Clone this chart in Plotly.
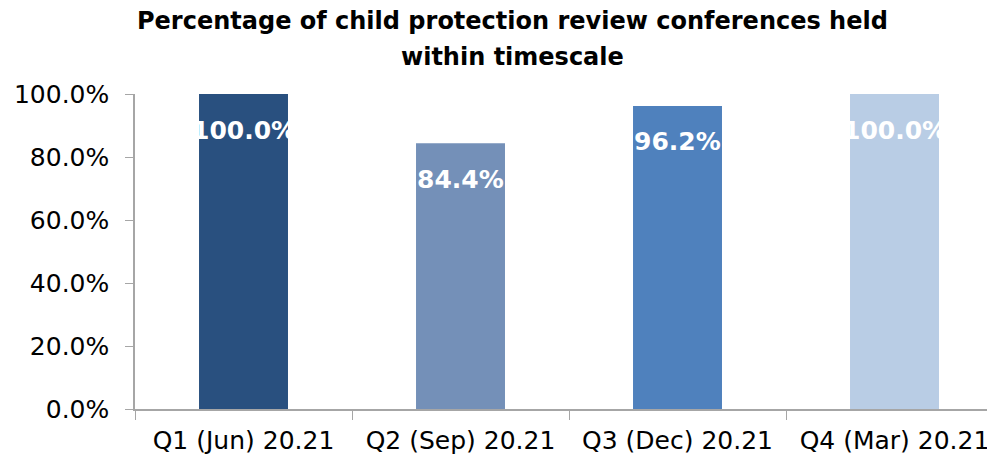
import plotly.graph_objects as go

categories = ["Q1 (Jun) 20.21", "Q2 (Sep) 20.21", "Q3 (Dec) 20.21", "Q4 (Mar) 20.21"]
values = [100.0, 84.4, 96.2, 100.0]
labels = ["100.0%", "84.4%", "96.2%", "100.0%"]
colors = ["#29507F", "#7490B8", "#4F81BD", "#B9CDE5"]
tick_vals = [0, 20, 40, 60, 80, 100]
tick_text = ["0.0%", "20.0%", "40.0%", "60.0%", "80.0%", "100.0%"]
title_lines = ["Percentage of child protection review conferences held", "within timescale"]

font_main = "DejaVu Sans"

fig = go.Figure()
fig.add_trace(go.Bar(
    x=categories, y=values, marker=dict(color=colors, line=dict(width=0)),
    width=0.41, hoverinfo="skip",
))

for c, v, t in zip(categories, values, labels):
    fig.add_annotation(x=c, y=v, text="<b>" + t + "</b>", showarrow=False,
                       yanchor="middle", yshift=-36,
                       font=dict(family=font_main, size=25, color="white"))

# plot area height = 461 - 86 - 60 = 315
for line, yp in zip(title_lines, [1.232, 1.117]):
    fig.add_annotation(xref="paper", yref="paper", x=0.435, y=yp, text="<b>" + line + "</b>",
                       showarrow=False, xanchor="center", yanchor="middle",
                       font=dict(family=font_main, size=24, color="black"))

fig.update_layout(
    width=995, height=461,
    margin=dict(l=127, r=0, t=86, b=60),
    paper_bgcolor="white", plot_bgcolor="white",
    showlegend=False,
    xaxis=dict(showline=True, linecolor="#A6A6A6", linewidth=1.5, automargin=False,
               ticks="outside", tickson="boundaries", ticklen=9, tickcolor="#A6A6A6",
               ticklabelstandoff=8,
               tickfont=dict(family=font_main, size=25, color="black"),
               showgrid=False, zeroline=False),
    yaxis=dict(range=[0, 100], tickvals=tick_vals, ticktext=tick_text, automargin=False,
               showline=True, linecolor="#A6A6A6", linewidth=1.5,
               ticks="outside", ticklen=8, tickcolor="#A6A6A6",
               ticklabelstandoff=11,
               tickfont=dict(family=font_main, size=25, color="black"),
               showgrid=False, zeroline=False),
)

fig.write_html("out.html")
